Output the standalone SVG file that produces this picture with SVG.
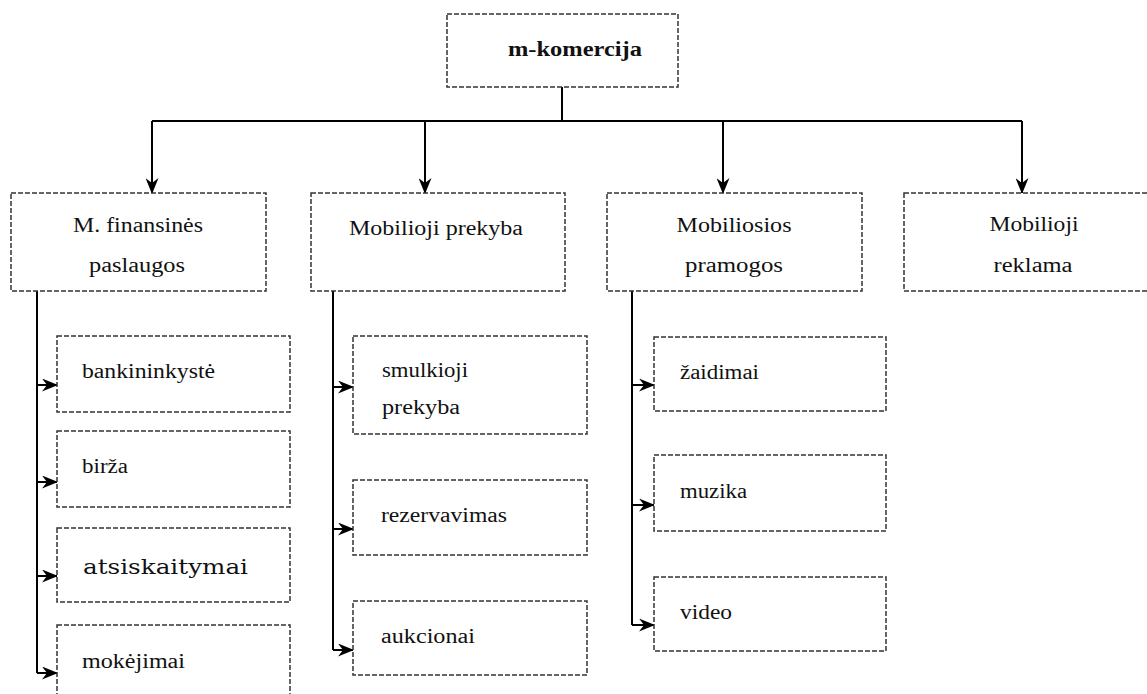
<svg xmlns="http://www.w3.org/2000/svg" width="1147" height="694" viewBox="0 0 1147 694">
<style>
.box{fill:#fff;stroke:#333;stroke-width:1.5;stroke-dasharray:5 2}
.t{font-family:"Liberation Serif","Times New Roman",serif;font-size:20px;fill:#111}
.c{text-anchor:middle}
.b{font-weight:bold}
.alt{font-family:"DejaVu Serif","Liberation Serif",serif;font-size:20px}
.ln{fill:none;stroke:#000;stroke-width:2}
</style>
<defs>
<marker id="ah" viewBox="0 0 16 13" refX="15" refY="6.5" markerWidth="16" markerHeight="13" markerUnits="userSpaceOnUse" orient="auto">
<path d="M0,0 L16,6.5 L0,13 L5,6.5 Z" fill="#000"/>
</marker>
</defs>
<rect width="1147" height="694" fill="#fff"/>
<g id="connectors">
<path class="ln" d="M562,87 V121"/>
<path class="ln" d="M152,121 H1022"/>
<path class="ln" d="M152,121 V193" marker-end="url(#ah)"/>
<path class="ln" d="M425,121 V193" marker-end="url(#ah)"/>
<path class="ln" d="M723,121 V193" marker-end="url(#ah)"/>
<path class="ln" d="M1022,121 V193" marker-end="url(#ah)"/>
<path class="ln" d="M37,291 V673"/>
<path class="ln" d="M37,385 H57" marker-end="url(#ah)"/>
<path class="ln" d="M37,482 H57" marker-end="url(#ah)"/>
<path class="ln" d="M37,576 H57" marker-end="url(#ah)"/>
<path class="ln" d="M37,673 H57" marker-end="url(#ah)"/>
<path class="ln" d="M333,291 V650"/>
<path class="ln" d="M333,387 H353" marker-end="url(#ah)"/>
<path class="ln" d="M333,529 H353" marker-end="url(#ah)"/>
<path class="ln" d="M333,650 H353" marker-end="url(#ah)"/>
<path class="ln" d="M632,291 V625"/>
<path class="ln" d="M632,385 H654" marker-end="url(#ah)"/>
<path class="ln" d="M632,505 H654" marker-end="url(#ah)"/>
<path class="ln" d="M632,625 H654" marker-end="url(#ah)"/>
</g>
<g id="n-root"><rect class="box" x="447" y="14" width="231" height="73"/><text class="t c b" x="575" y="56" textLength="134" lengthAdjust="spacingAndGlyphs">m-komercija</text></g>
<g id="n-fin"><rect class="box" x="11" y="193" width="255" height="98"/><text class="t c" x="138" y="232" textLength="130" lengthAdjust="spacingAndGlyphs">M. finansinės</text><text class="t c" x="137" y="272" textLength="96" lengthAdjust="spacingAndGlyphs">paslaugos</text></g>
<g id="n-prek"><rect class="box" x="311" y="193" width="254" height="98"/><text class="t c" x="436" y="235" textLength="174" lengthAdjust="spacingAndGlyphs">Mobilioji prekyba</text></g>
<g id="n-pram"><rect class="box" x="607" y="193" width="255" height="98"/><text class="t c" x="734" y="232" textLength="115" lengthAdjust="spacingAndGlyphs">Mobiliosios</text><text class="t c" x="734" y="272" textLength="98" lengthAdjust="spacingAndGlyphs">pramogos</text></g>
<g id="n-rekl"><rect class="box" x="904" y="193" width="258" height="98"/><text class="t c" x="1034" y="231" textLength="89" lengthAdjust="spacingAndGlyphs">Mobilioji</text><text class="t c" x="1033" y="272" textLength="79" lengthAdjust="spacingAndGlyphs">reklama</text></g>
<g id="n-bank"><rect class="box" x="57" y="336" width="233" height="76"/><text class="t" x="82" y="378" textLength="133" lengthAdjust="spacingAndGlyphs">bankininkystė</text></g>
<g id="n-birza"><rect class="box" x="57" y="431" width="233" height="76"/><text class="t" x="82" y="473" textLength="46" lengthAdjust="spacingAndGlyphs">birža</text></g>
<g id="n-atsisk"><rect class="box" x="57" y="528" width="233" height="74"/><text class="t alt" x="83" y="574" textLength="165" lengthAdjust="spacingAndGlyphs">atsiskaitymai</text></g>
<g id="n-mok"><rect class="box" x="57" y="625" width="233" height="80"/><text class="t" x="82" y="668" textLength="103" lengthAdjust="spacingAndGlyphs">mokėjimai</text></g>
<g id="n-smulk"><rect class="box" x="353" y="336" width="234" height="98"/><text class="t" x="382" y="377" textLength="86" lengthAdjust="spacingAndGlyphs">smulkioji</text><text class="t" x="382" y="414" textLength="78" lengthAdjust="spacingAndGlyphs">prekyba</text></g>
<g id="n-rez"><rect class="box" x="353" y="480" width="234" height="75"/><text class="t" x="381" y="522" textLength="126" lengthAdjust="spacingAndGlyphs">rezervavimas</text></g>
<g id="n-auk"><rect class="box" x="353" y="601" width="234" height="74"/><text class="t" x="381" y="643" textLength="94" lengthAdjust="spacingAndGlyphs">aukcionai</text></g>
<g id="n-zaid"><rect class="box" x="654" y="337" width="232" height="74"/><text class="t" x="680" y="379" textLength="79" lengthAdjust="spacingAndGlyphs">žaidimai</text></g>
<g id="n-muz"><rect class="box" x="654" y="455" width="232" height="76"/><text class="t" x="680" y="498" textLength="67" lengthAdjust="spacingAndGlyphs">muzika</text></g>
<g id="n-video"><rect class="box" x="654" y="577" width="232" height="74"/><text class="t" x="680" y="619" textLength="52" lengthAdjust="spacingAndGlyphs">video</text></g>
</svg>
